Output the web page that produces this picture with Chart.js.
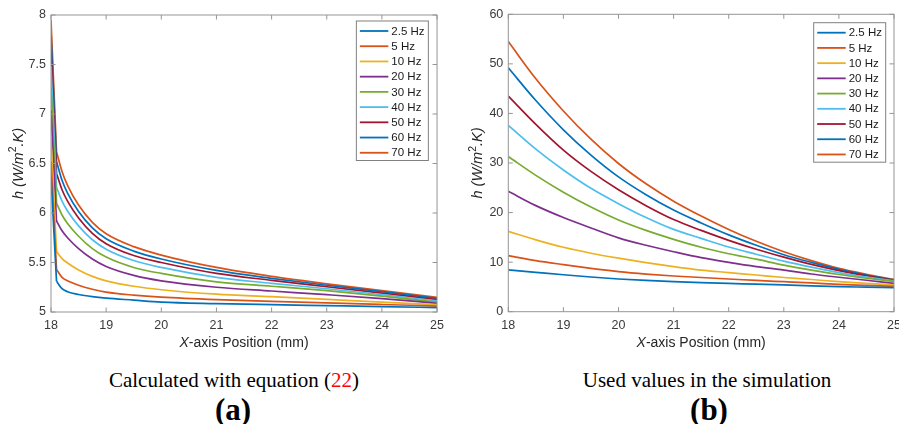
<!DOCTYPE html>
<html>
<head>
<meta charset="utf-8">
<script src="https://cdn.jsdelivr.net/npm/chart.js@4.4.1/dist/chart.umd.min.js"></script>
<style>
html,body{margin:0;padding:0;background:#fff;width:899px;height:424px;overflow:hidden;position:relative;}
canvas{display:block;}
#wrapA{position:absolute;left:0;top:0;width:450px;height:352px;}
#wrapB{position:absolute;left:450px;top:0;width:449px;height:352px;overflow:hidden;}
.cap{position:absolute;font-family:"Liberation Serif","Times New Roman",serif;color:#000;white-space:nowrap;transform:translateX(-50%);}
</style>
</head>
<body>
<div id="wrapA"><canvas id="cA" width="450" height="352"></canvas></div>
<div id="wrapB"><canvas id="cB" width="470" height="352"></canvas></div>
<div class="cap" style="left:234px;top:370px;font-size:21px;line-height:21px;">Calculated with equation (<span style="color:#ff0000">22</span>)</div>
<div class="cap" style="left:233px;top:394px;font-size:31px;line-height:31px;font-weight:bold;">(a)</div>
<div class="cap" style="left:707px;top:370px;font-size:21px;line-height:21px;">Used values in the simulation</div>
<div class="cap" style="left:709px;top:394px;font-size:31px;line-height:31px;font-weight:bold;">(b)</div>
<script>
// ---------- data ----------
const seriesLabels = ['2.5 Hz', '5 Hz', '10 Hz', '20 Hz', '30 Hz', '40 Hz', '50 Hz', '60 Hz', '70 Hz'];
const xTicks = [18, 19, 20, 21, 22, 23, 24, 25];
const yTicksA = [5, 5.5, 6, 6.5, 7, 7.5, 8];
const yTicksB = [0, 10, 20, 30, 40, 50, 60];

// (a) calculated with equation (22)
const xA = [18, 18.1, 18.2, 18.3, 18.5, 18.75, 19, 19.5, 20, 21, 22, 23, 24, 25];
const hA_2_5 = [6.37, 5.31, 5.235, 5.205, 5.177, 5.155, 5.14, 5.12, 5.10, 5.085, 5.074, 5.064, 5.054, 5.045];
const hA_5   = [6.52, 5.43, 5.35, 5.315, 5.27, 5.23, 5.20, 5.17, 5.15, 5.125, 5.108, 5.092, 5.076, 5.06];
const hA_10  = [6.74, 5.61, 5.54, 5.495, 5.425, 5.36, 5.315, 5.26, 5.225, 5.18, 5.155, 5.128, 5.10, 5.074];
const hA_20  = [7.04, 5.92, 5.82, 5.75, 5.64, 5.535, 5.46, 5.37, 5.315, 5.25, 5.212, 5.175, 5.135, 5.088];
const hA_30  = [7.27, 6.10, 5.98, 5.895, 5.765, 5.64, 5.555, 5.45, 5.39, 5.305, 5.26, 5.215, 5.16, 5.10];
const hA_40  = [7.48, 6.26, 6.12, 6.02, 5.87, 5.73, 5.635, 5.52, 5.45, 5.35, 5.29, 5.235, 5.175, 5.113];
const hA_50  = [7.65, 6.40, 6.235, 6.12, 5.95, 5.795, 5.69, 5.57, 5.50, 5.39, 5.32, 5.255, 5.19, 5.125];
const hA_60  = [7.80, 6.52, 6.33, 6.20, 6.015, 5.85, 5.74, 5.615, 5.535, 5.42, 5.34, 5.27, 5.205, 5.138];
const hA_70  = [7.95, 6.62, 6.42, 6.28, 6.08, 5.905, 5.79, 5.66, 5.575, 5.45, 5.36, 5.285, 5.215, 5.148];

// (b) used values in the simulation
const xB = [18, 18.5, 19, 19.5, 20, 20.5, 21, 21.5, 22, 22.5, 23, 23.5, 24, 24.5, 25];
const hB_2_5 = [8.45, 7.95, 7.45, 7.0, 6.6, 6.3, 6.05, 5.85, 5.7, 5.55, 5.4, 5.2, 5.05, 4.95, 4.85];
const hB_5   = [11.3, 10.3, 9.5, 8.75, 8.1, 7.6, 7.2, 6.9, 6.6, 6.3, 6.05, 5.8, 5.5, 5.3, 5.1];
const hB_10  = [16.2, 14.5, 13.0, 11.8, 10.8, 9.9, 9.1, 8.4, 7.9, 7.4, 6.9, 6.5, 6.05, 5.7, 5.4];
const hB_20  = [24.3, 21.4, 19.0, 16.9, 14.9, 13.4, 12.1, 10.9, 9.95, 9.1, 8.4, 7.6, 6.95, 6.35, 5.7];
const hB_30  = [31.3, 27.5, 24.1, 21.1, 18.5, 16.4, 14.6, 13.0, 11.7, 10.6, 9.4, 8.4, 7.5, 6.75, 6.1];
const hB_40  = [37.6, 32.8, 28.6, 24.9, 21.8, 19.0, 16.6, 14.8, 13.05, 11.6, 10.2, 9.0, 7.9, 7.0, 6.2];
const hB_50  = [43.5, 37.8, 32.6, 28.3, 24.6, 21.4, 18.6, 16.4, 14.4, 12.6, 11.0, 9.55, 8.3, 7.25, 6.3];
const hB_60  = [49.2, 42.6, 36.7, 31.6, 27.2, 23.6, 20.5, 17.9, 15.5, 13.4, 11.5, 9.95, 8.55, 7.4, 6.4];
const hB_70  = [54.5, 47.0, 40.5, 34.8, 29.9, 25.8, 22.3, 19.3, 16.6, 14.2, 12.1, 10.3, 8.75, 7.55, 6.5];

const seriesA = [hA_2_5, hA_5, hA_10, hA_20, hA_30, hA_40, hA_50, hA_60, hA_70];
const seriesB = [hB_2_5, hB_5, hB_10, hB_20, hB_30, hB_40, hB_50, hB_60, hB_70];

// ---------- styles ----------
const lineColors = ['#0072BD', '#D95319', '#EDB120', '#7E2F8E', '#77AC30', '#4DBEEE', '#A2142F', '#0072BD', '#D95319'];
const SANS = '"Liberation Sans", Arial, Helvetica, sans-serif';
const tickColor = '#3a3a3a';
const frameColor = '#959595';

function toPoints(xs, ys) { return xs.map((x, i) => ({x: x, y: ys[i]})); }

function drawRich(ctx, parts, size) {
  let total = 0;
  const fonts = parts.map(p => {
    const s = p.sup ? size * 0.72 : size;
    const f = (p.i ? 'italic ' : '') + s + 'px ' + SANS;
    ctx.font = f;
    const w = ctx.measureText(p.t).width;
    total += w;
    return {f, w, dy: p.sup ? -size * 0.38 : 0};
  });
  let x = -total / 2;
  ctx.textBaseline = 'middle';
  ctx.textAlign = 'left';
  parts.forEach((p, k) => {
    ctx.font = fonts[k].f;
    ctx.fillText(p.t, x, fonts[k].dy);
    x += fonts[k].w;
  });
}

const xTitleParts = [{t: 'X', i: true}, {t: '-axis Position (mm)'}];
const yTitleParts = [{t: 'h (W/m', i: true}, {t: '2', sup: true}, {t: '.K)', i: true}];

function makeDecor(cfg) {
  return {
    id: 'matlabDecor',
    afterDatasetsDraw(chart) {
      const {ctx, chartArea: a, scales} = chart;
      const xs = scales.x, ys = scales.y;
      ctx.save();
      ctx.strokeStyle = frameColor;
      ctx.lineWidth = 1;
      ctx.strokeRect(a.left, a.top, a.right - a.left, a.bottom - a.top);
      const L = 4.5;
      ctx.beginPath();
      xs.ticks.forEach(t => {
        const px = xs.getPixelForValue(t.value);
        ctx.moveTo(px, a.bottom); ctx.lineTo(px, a.bottom - L);
        ctx.moveTo(px, a.top); ctx.lineTo(px, a.top + L);
      });
      ys.ticks.forEach(t => {
        const py = ys.getPixelForValue(t.value);
        ctx.moveTo(a.left, py); ctx.lineTo(a.left + L, py);
        ctx.moveTo(a.right, py); ctx.lineTo(a.right - L, py);
      });
      ctx.stroke();

      ctx.fillStyle = '#262626';
      ctx.save();
      ctx.translate((a.left + a.right) / 2, cfg.xTitleY);
      drawRich(ctx, xTitleParts, 14);
      ctx.restore();
      ctx.save();
      ctx.translate(cfg.yTitleX, (a.top + a.bottom) / 2);
      ctx.rotate(-Math.PI / 2);
      drawRich(ctx, yTitleParts, 14.5);
      ctx.restore();

      const bw = 72, bh = 139.5;
      const bx = a.right - cfg.legRight - bw;
      const by = a.top + cfg.legTop;
      ctx.fillStyle = '#ffffff';
      ctx.fillRect(bx, by, bw, bh);
      ctx.strokeStyle = '#808080';
      ctx.lineWidth = 1;
      ctx.strokeRect(bx, by, bw, bh);
      const ds = chart.data.datasets.filter(d => !d.isHead);
      ctx.font = '11.5px ' + SANS;
      ctx.textBaseline = 'middle';
      ctx.textAlign = 'left';
      ds.forEach((d, k) => {
        const ry = by + 10 + k * 15.22;
        ctx.strokeStyle = d.borderColor;
        ctx.lineWidth = 1.8;
        ctx.beginPath();
        ctx.moveTo(bx + 3.5, ry);
        ctx.lineTo(bx + 32, ry);
        ctx.stroke();
        ctx.fillStyle = '#1a1a1a';
        ctx.fillText(d.label, bx + 35, ry + 0.5);
      });
      ctx.restore();
    }
  };
}

// headCount: number of leading points joined by straight segments (sharp knee), rest smooth
function makeChart(id, xs, series, yMin, yMax, yTicks, pad, yWidth, decor, headCount) {
  const datasets = [];
  series.forEach((ys, k) => {
    const pts = toPoints(xs, ys);
    if (headCount > 1) {
      datasets.push({
        label: seriesLabels[k], isHead: true,
        data: pts.slice(0, headCount),
        borderColor: lineColors[k], backgroundColor: lineColors[k],
        borderWidth: 1.7, pointRadius: 0, fill: false, tension: 0
      });
    }
    datasets.push({
      label: seriesLabels[k],
      data: headCount > 1 ? pts.slice(headCount - 1) : pts,
      borderColor: lineColors[k], backgroundColor: lineColors[k],
      borderWidth: 1.7, pointRadius: 0, fill: false,
      cubicInterpolationMode: 'monotone'
    });
  });
  return new Chart(document.getElementById(id), {
    type: 'line',
    data: {datasets},
    options: {
      responsive: false,
      animation: false,
      layout: {padding: pad},
      plugins: {legend: {display: false}, tooltip: {enabled: false}, title: {display: false}},
      scales: {
        x: {
          type: 'linear', min: xTicks[0], max: xTicks[xTicks.length - 1],
          grid: {display: false, drawTicks: false},
          border: {display: false},
          afterBuildTicks: s => { s.ticks = xTicks.map(v => ({value: v})); },
          ticks: {autoSkip: false, maxRotation: 0, padding: 6, color: tickColor,
                  font: {family: SANS, size: 12.5}, callback: v => String(v)},
          afterFit: s => { s.height = 40; }
        },
        y: {
          type: 'linear', min: yMin, max: yMax,
          grid: {display: false, drawTicks: false},
          border: {display: false},
          afterBuildTicks: s => { s.ticks = yTicks.map(v => ({value: v})); },
          ticks: {autoSkip: false, padding: 5, color: tickColor,
                  font: {family: SANS, size: 12.5}, callback: v => String(v)},
          afterFit: s => { s.width = yWidth; }
        }
      }
    },
    plugins: [makeDecor(decor)]
  });
}

makeChart('cA', xA, seriesA, 5, 8, yTicksA,
  {left: 0, top: 15, right: 12.3, bottom: 0}, 51,
  {xTitleY: 343, yTitleX: 18.5, legRight: 8.7, legTop: 6}, 2);

makeChart('cB', xB, seriesB, 0, 60, yTicksB,
  {left: 0, top: 14.3, right: 26, bottom: 0.3}, 58.3,
  {xTitleY: 343.3, yTitleX: 28.3, legRight: 8.3, legTop: 8.4}, 0);
</script>
</body>
</html>
